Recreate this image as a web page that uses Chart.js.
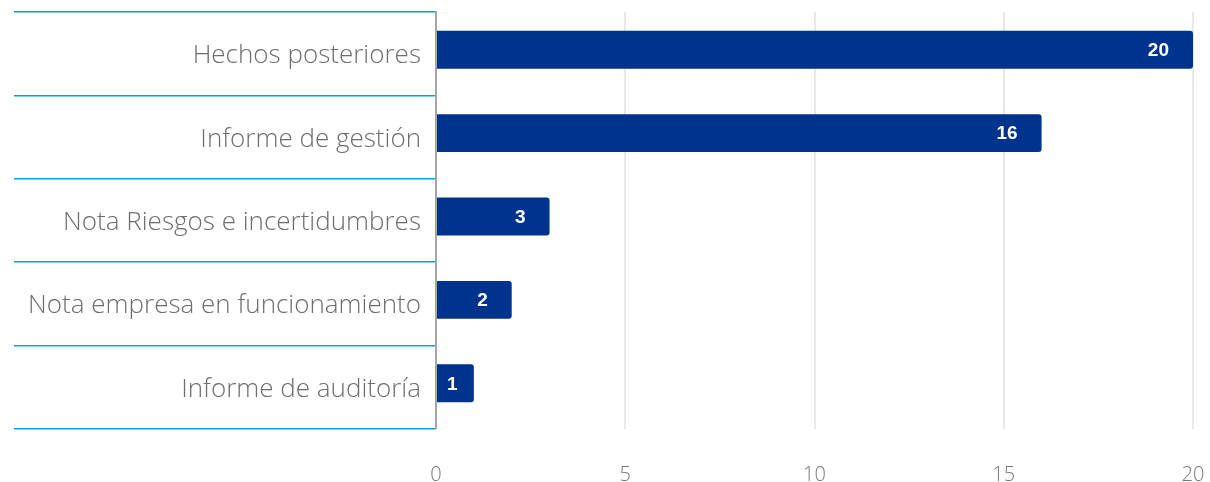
<!DOCTYPE html>
<html lang="es">
<head>
<meta charset="utf-8">
<title>Hechos posteriores e informes</title>
<script src="https://cdn.jsdelivr.net/npm/chart.js@4.4.1/dist/chart.umd.min.js"></script>
<style>
  html, body { margin: 0; padding: 0; background: #ffffff; }
  #wrap { width: 1210px; height: 482px; position: relative; }
</style>
</head>
<body>
<div id="wrap"><canvas id="chart"></canvas></div>
<script>
// Categories (top to bottom) and their counts
const categories = [
  'Hechos posteriores',
  'Informe de gestión',
  'Nota Riesgos e incertidumbres',
  'Nota empresa en funcionamiento',
  'Informe de auditoría'
];
const counts = [20, 16, 3, 2, 1];
const axisTicks = [0, 5, 10, 15, 20];

const BAR_BLUE = '#00338D';
const SEPARATOR_BLUE = '#00A3E0';
const LABEL_FONT = '"Open Sans", Roboto, sans-serif';

// Bars sit slightly above the middle of their band
const barLift = {
  id: 'barLift',
  beforeDatasetsDraw(chart) {
    chart.ctx.save();
    chart.ctx.translate(0, -4);
  },
  afterDatasetsDraw(chart) {
    chart.ctx.restore();
  }
};

// White value labels drawn inside the end of each bar
const valueLabels = {
  id: 'valueLabels',
  afterDatasetsDraw(chart) {
    const ctx = chart.ctx;
    const meta = chart.getDatasetMeta(0);
    ctx.save();
    ctx.font = 'bold 19px "Liberation Sans", Arial, sans-serif';
    ctx.fillStyle = '#ffffff';
    ctx.textBaseline = 'middle';
    ctx.textAlign = 'right';
    meta.data.forEach((bar, i) => {
      const text = String(counts[i]);
      const w = ctx.measureText(text).width;
      const right = Math.max(bar.x - 24, bar.base + 10 + w);
      ctx.fillText(text, right, bar.y - 3);
    });
    ctx.restore();
  }
};

new Chart(document.getElementById('chart'), {
  type: 'bar',
  data: {
    labels: categories,
    datasets: [{
      data: counts,
      backgroundColor: BAR_BLUE,
      borderRadius: { topRight: 3, bottomRight: 3, topLeft: 0, bottomLeft: 0 },
      borderSkipped: false,
      categoryPercentage: 1,
      barPercentage: 0.455
    }]
  },
  options: {
    indexAxis: 'y',
    responsive: true,
    maintainAspectRatio: false,
    animation: false,
    layout: { padding: { top: 12, right: 17, bottom: 0, left: 0 } },
    plugins: {
      legend: { display: false },
      tooltip: { enabled: false }
    },
    scales: {
      x: {
        min: 0,
        max: 20,
        afterBuildTicks(scale) {
          scale.ticks = axisTicks.map(v => ({ value: v }));
        },
        afterFit(scale) {
          scale.height = 53;
          scale.paddingLeft = 0;
          scale.paddingRight = 0;
        },
        grid: {
          color: '#e8e8e8',
          lineWidth: 2,
          drawTicks: false
        },
        border: { display: false },
        ticks: {
          padding: 34,
          maxRotation: 0,
          color: '#75787b',
          font: { family: LABEL_FONT, weight: 300, size: 20 }
        }
      },
      y: {
        afterFit(scale) { scale.width = 436; },
        grid: {
          offset: true,
          drawOnChartArea: false,
          drawTicks: true,
          tickLength: 422,
          color: SEPARATOR_BLUE,
          lineWidth: 1.5
        },
        border: { display: true, color: '#a6a6a6', width: 2 },
        ticks: {
          padding: -407,
          labelOffset: 2,
          color: '#6d6e71',
          font: { family: LABEL_FONT, weight: 300, size: 26 }
        }
      }
    }
  },
  plugins: [barLift, valueLabels]
});
</script>
</body>
</html>
